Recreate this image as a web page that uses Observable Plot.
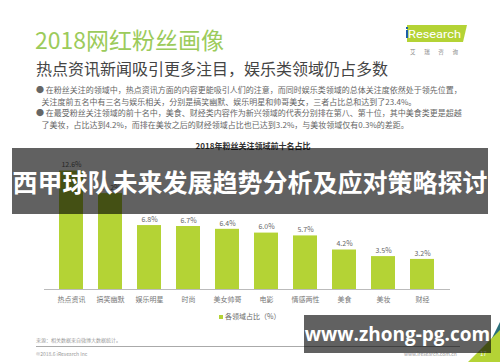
<!DOCTYPE html>
<html><head><meta charset="utf-8">
<script src="https://cdn.jsdelivr.net/npm/d3@7"></script>
<script src="https://cdn.jsdelivr.net/npm/@observablehq/plot@0.6"></script>
<style>
html,body{margin:0;padding:0;background:#fff;}
body{width:500px;height:362px;position:relative;overflow:hidden;font-family:"Noto Sans CJK SC","Noto Sans",sans-serif;}
.a{position:absolute;white-space:nowrap;}
#chart{position:absolute;left:0;top:140px;}
</style></head><body>
<div class="a" style="left:35px;top:25px;font-size:23px;line-height:28px;color:#9ccb5b;">2018网红粉丝画像</div>
<div class="a" style="left:36px;top:58px;font-size:16px;line-height:20px;color:#444;">热点资讯新闻吸引更多注目，娱乐类领域仍占多数</div>
<div class="a" style="left:36px;top:84px;font-size:8px;line-height:11.7px;color:#666;">
<div>● 在粉丝关注的领域中，热点资讯方面的内容更能吸引人们的注意，而同时娱乐类领域的总体关注度依然处于领先位置，</div>
<div>&nbsp;&nbsp;&nbsp;关注度前五名中有三名与娱乐相关，分别是搞笑幽默、娱乐明星和帅哥美女，三者占比总和达到了23.4%。</div>
<div>● 在最受粉丝关注领域的前十名中，美食、财经类内容作为新兴领域的代表分别排在第八、第十位，其中美食类更是超越</div>
<div>&nbsp;&nbsp;&nbsp;了美妆，占比达到4.2%，而排在美妆之后的财经领域占比也已达到3.2%，与美妆领域仅有0.3%的差距。</div>
</div>
<svg class="a" style="left:400px;top:22px;" width="70" height="36">
<polygon points="7,3 67,3 63,20 7,20" fill="#b4d335"/>
<text x="8" y="16" font-family="Roboto,sans-serif" font-size="11" fill="#fff" textLength="53" lengthAdjust="spacingAndGlyphs">Research</text>
<rect x="6" y="5" width="2" height="2" fill="#1b5fa8"/>
<rect x="6" y="8" width="2" height="8" fill="#1b5fa8"/>
<text x="10" y="32" font-size="5.5" fill="#888" textLength="48">艾 瑞 咨 询</text>
</svg>
<div class="a" style="left:0;width:506px;text-align:center;top:141px;font-size:8px;line-height:10px;font-weight:bold;color:#333;">2018年粉丝关注领域前十名占比</div>
<div id="chart"></div>
<div class="a" style="left:219px;top:311px;font-size:7px;line-height:10px;color:#666;"><span style="display:inline-block;width:4px;height:4px;background:#b4d335;margin-right:2px;vertical-align:middle;"></span>各领域占比（%）</div>
<div class="a" style="left:36px;top:337px;font-size:5px;line-height:6px;color:#999;">来源：相关数据来自微博大数据统计。</div>
<div class="a" style="left:36px;top:346px;width:424px;height:1px;background:#aaa;"></div>
<div class="a" style="left:36px;top:351px;font-size:5px;line-height:6px;color:#999;">©2018.6 iResearch Inc</div>
<div class="a" style="left:404px;top:351px;font-size:5px;line-height:6px;color:#999;">www.iresearch.com.cn</div>
<svg class="a" style="left:440px;top:300px;" width="60" height="62">
<polygon points="60,22 60,52 40,62" fill="#2b6f7a"/>
<polygon points="60,30 60,62 28,62" fill="#b4d335"/>
<text x="40" y="56" font-size="6" fill="#fff">17</text>
</svg>
<div class="a" style="left:12px;top:148px;width:476px;height:66px;background:rgba(0,0,0,0.62);"></div>
<div class="a" style="left:12px;top:148px;width:476px;height:66px;line-height:66px;text-align:center;font-size:25px;font-weight:bold;color:#fff;">西甲球队未来发展趋势分析及应对策略探讨</div>
<div class="a" style="left:304px;top:315px;width:187px;height:38px;background:rgba(0,0,0,0.62);"></div>
<div class="a" style="left:304px;top:315px;width:187px;height:38px;line-height:38px;text-align:center;font-family:'Open Sans','DejaVu Sans',sans-serif;font-size:19px;font-weight:bold;color:#fff;">www.zhong-pg.com</div>
<script>
const categories = ["热点资讯","搞笑幽默","娱乐明星","时尚","美女帅哥","电影","情感两性","美食","美妆","财经"];
const shares = [12.6, 10.2, 6.8, 6.7, 6.4, 6.0, 5.7, 4.2, 3.5, 3.2];
const labels = ["12.6%","10.2%","6.8%","6.7%","6.4%","6.0%","5.7%","4.2%","3.5%","3.2%"];
const data = categories.map((c,i)=>({c, v: shares[i], l: labels[i]}));
const chart = Plot.plot({
  width: 500, height: 170,
  marginLeft: 44, marginRight: 50, marginTop: 20, marginBottom: 21,
  style: {fontFamily: '"Noto Sans CJK SC", sans-serif', background: "transparent"},
  x: {domain: categories, padding: 0.38, label: null},
  y: {domain: [0, 13.72], axis: null},
  marks: [
    Plot.barY(data, {x: "c", y: "v", fill: "#b4d335"}),
    Plot.ruleY([0], {stroke: "#bbb"}),
    Plot.text(data, {x: "c", y: "v", text: "l", dy: -6, fontSize: 7, fill: "#666"}),
    Plot.axisX({tickSize: 0, tickPadding: 8, fontSize: 7, color: "#777", label: null})
  ]
});
document.getElementById("chart").appendChild(chart);
</script>
</body></html>
